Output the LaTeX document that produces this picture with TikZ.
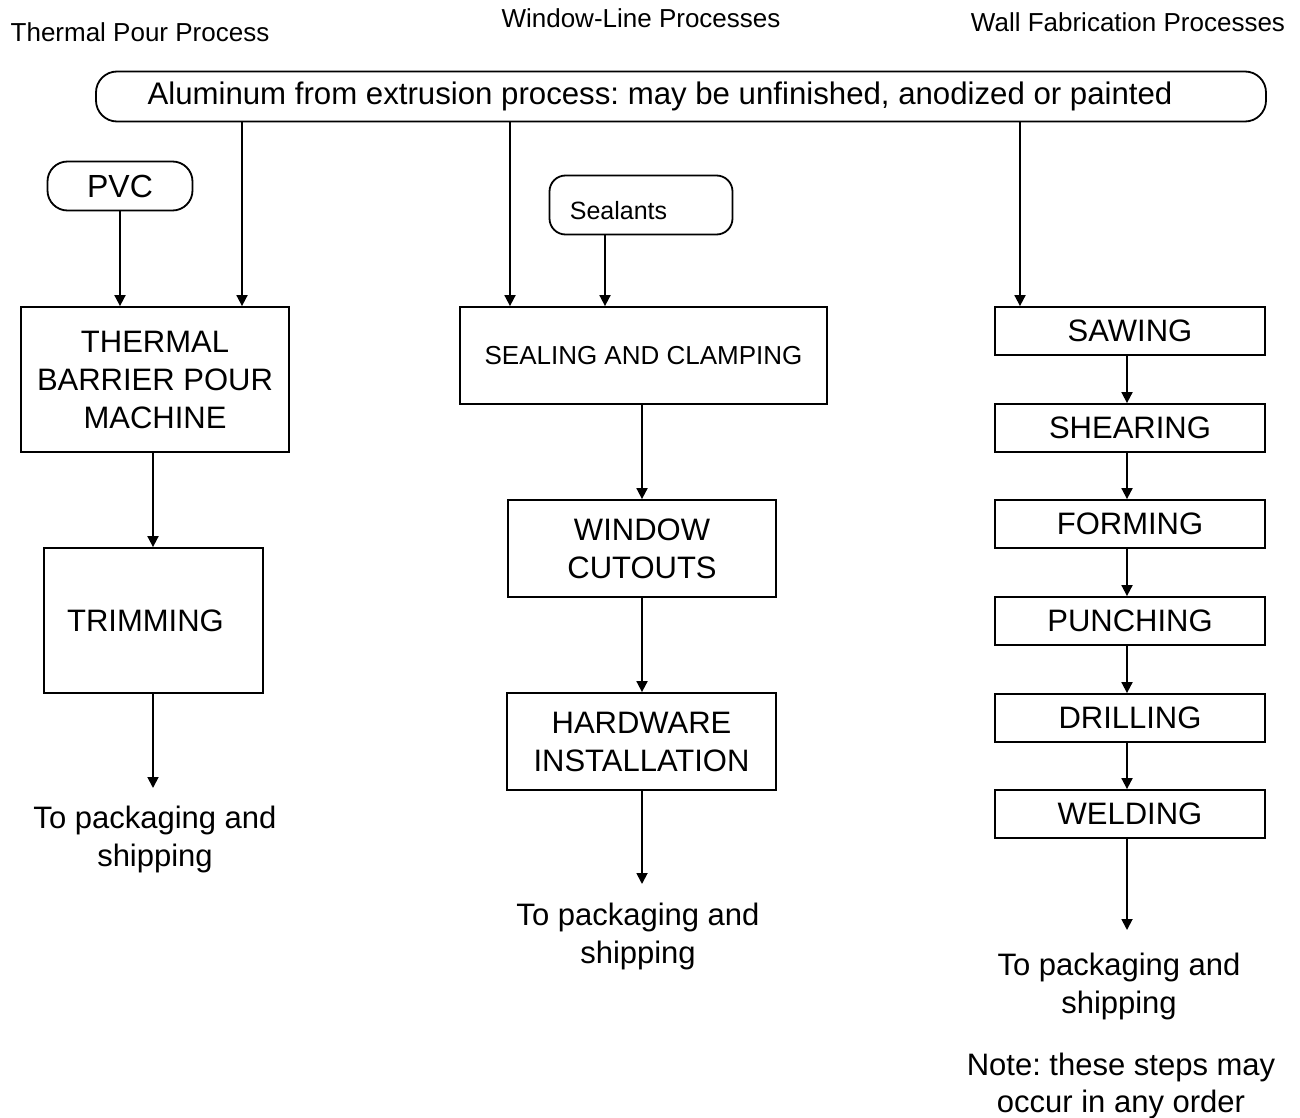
\documentclass[tikz,border=0pt]{standalone}
\usepackage{fontspec}
\setmainfont{Liberation Sans}
\usetikzlibrary{arrows.meta}
\frenchspacing
\begin{document}
\begin{tikzpicture}[x=1pt,y=-1pt,
  line width=1.8pt,
  flow/.style={-{Triangle[width=11pt,length=11pt]}},
  procbox/.style={draw, rectangle, align=center, inner sep=0pt,
    font=\fontsize{31}{38}\selectfont},
  wallbox/.style={procbox, minimum width=270pt, minimum height=48pt},
  pill/.style={draw, rounded corners=#1, inner sep=0pt},
  heading/.style={inner sep=0pt, font=\fontsize{26}{30}\selectfont},
  outtext/.style={align=center, inner sep=0pt, anchor=north,
    font=\fontsize{31}{38}\selectfont},
]
\useasboundingbox (0,0) rectangle (1300,1118);

% column headings
\node[heading] (hthermal) at (140,32) {Thermal Pour Process};
\node[heading] (hwindow) at (641,18) {Window-Line Processes};
\node[heading] (hwall) at (1128,22) {Wall Fabrication Processes};

% raw material sources
\node[pill=21pt, minimum width=1170pt, minimum height=50pt] (alu) at (681,96.5) {};
\node[inner sep=0pt, anchor=base, font=\fontsize{31.2}{36}\selectfont] (alutext) at (660,105)
  {Aluminum from extrusion process: may be unfinished, anodized or painted};
\node[pill=20pt, minimum width=145pt, minimum height=49pt,
  font=\fontsize{32}{38}\selectfont] (pvc) at (120,186) {PVC};
\node[pill=16pt, minimum width=183pt, minimum height=59pt] (seal) at (641,205) {};
\node[inner sep=0pt, font=\fontsize{25}{30}\selectfont] (sealtext) at (618.5,211) {Sealants};

% thermal pour line
\node[procbox, minimum width=268pt, minimum height=145pt] (thermal) at (155,379.5)
  {THERMAL\\BARRIER POUR\\MACHINE};
\node[procbox, minimum width=219pt, minimum height=145pt] (trim) at (153.5,620.5)
  {TRIMMING\hspace*{16pt}};
\node[outtext] (out1) at (155,805) {To packaging and\\shipping};

% window line
\node[procbox, minimum width=367pt, minimum height=97pt,
  font=\fontsize{26}{32}\selectfont] (sealclamp) at (643.5,355.5)
  {SEALING AND CLAMPING};
\node[procbox, minimum width=268pt, minimum height=97pt] (cutouts) at (642,548.5)
  {WINDOW\\CUTOUTS};
\node[procbox, minimum width=269pt, minimum height=97pt] (hardware) at (641.5,741.5)
  {HARDWARE\\INSTALLATION};
\node[outtext] (out2) at (638,902) {To packaging and\\shipping};

% wall fabrication line
\node[wallbox] (sawing)   at (1130,331) {SAWING};
\node[wallbox] (shearing) at (1130,428) {SHEARING};
\node[wallbox] (forming)  at (1130,524) {FORMING};
\node[wallbox] (punching) at (1130,621) {PUNCHING};
\node[wallbox] (drilling) at (1130,718) {DRILLING};
\node[wallbox] (welding)  at (1130,814) {WELDING};
\node[outtext] (out3) at (1119,952) {To packaging and\\shipping};
\node[outtext, font=\fontsize{31}{37}\selectfont] (note) at (1121,1052)
  {Note: these steps may\\occur in any order};

% connector columns
\coordinate (c1) at (242,0);
\coordinate (c2) at (510,0);
\coordinate (c3) at (1020,0);
\coordinate (c4) at (605,0);
\coordinate (lx) at (153,0);
\coordinate (mx) at (642,0);
\coordinate (wx) at (1127,0);

% feeds
\draw[flow] (alu.south -| c1) -- (thermal.north -| c1);
\draw[flow] (pvc.south) -- (thermal.north -| pvc.south);
\draw[flow] (alu.south -| c2) -- (sealclamp.north -| c2);
\draw[flow] (seal.south -| c4) -- (sealclamp.north -| c4);
\draw[flow] (alu.south -| c3) -- (sawing.north -| c3);

% thermal pour flow
\draw[flow] (thermal.south -| lx) -- (trim.north -| lx);
\draw[flow, shorten >=17pt] (trim.south -| lx) -- (out1.north -| lx);

% window line flow
\draw[flow] (sealclamp.south -| mx) -- (cutouts.north -| mx);
\draw[flow] (cutouts.south -| mx) -- (hardware.north -| mx);
\draw[flow, shorten >=18pt] (hardware.south -| mx) -- (out2.north -| mx);

% wall fabrication flow
\foreach \a/\b in {sawing/shearing, shearing/forming, forming/punching,
                   punching/drilling, drilling/welding}
  \draw[flow] (\a.south -| wx) -- (\b.north -| wx);
\draw[flow, shorten >=22pt] (welding.south -| wx) -- (out3.north -| wx);
\end{tikzpicture}
\end{document}
